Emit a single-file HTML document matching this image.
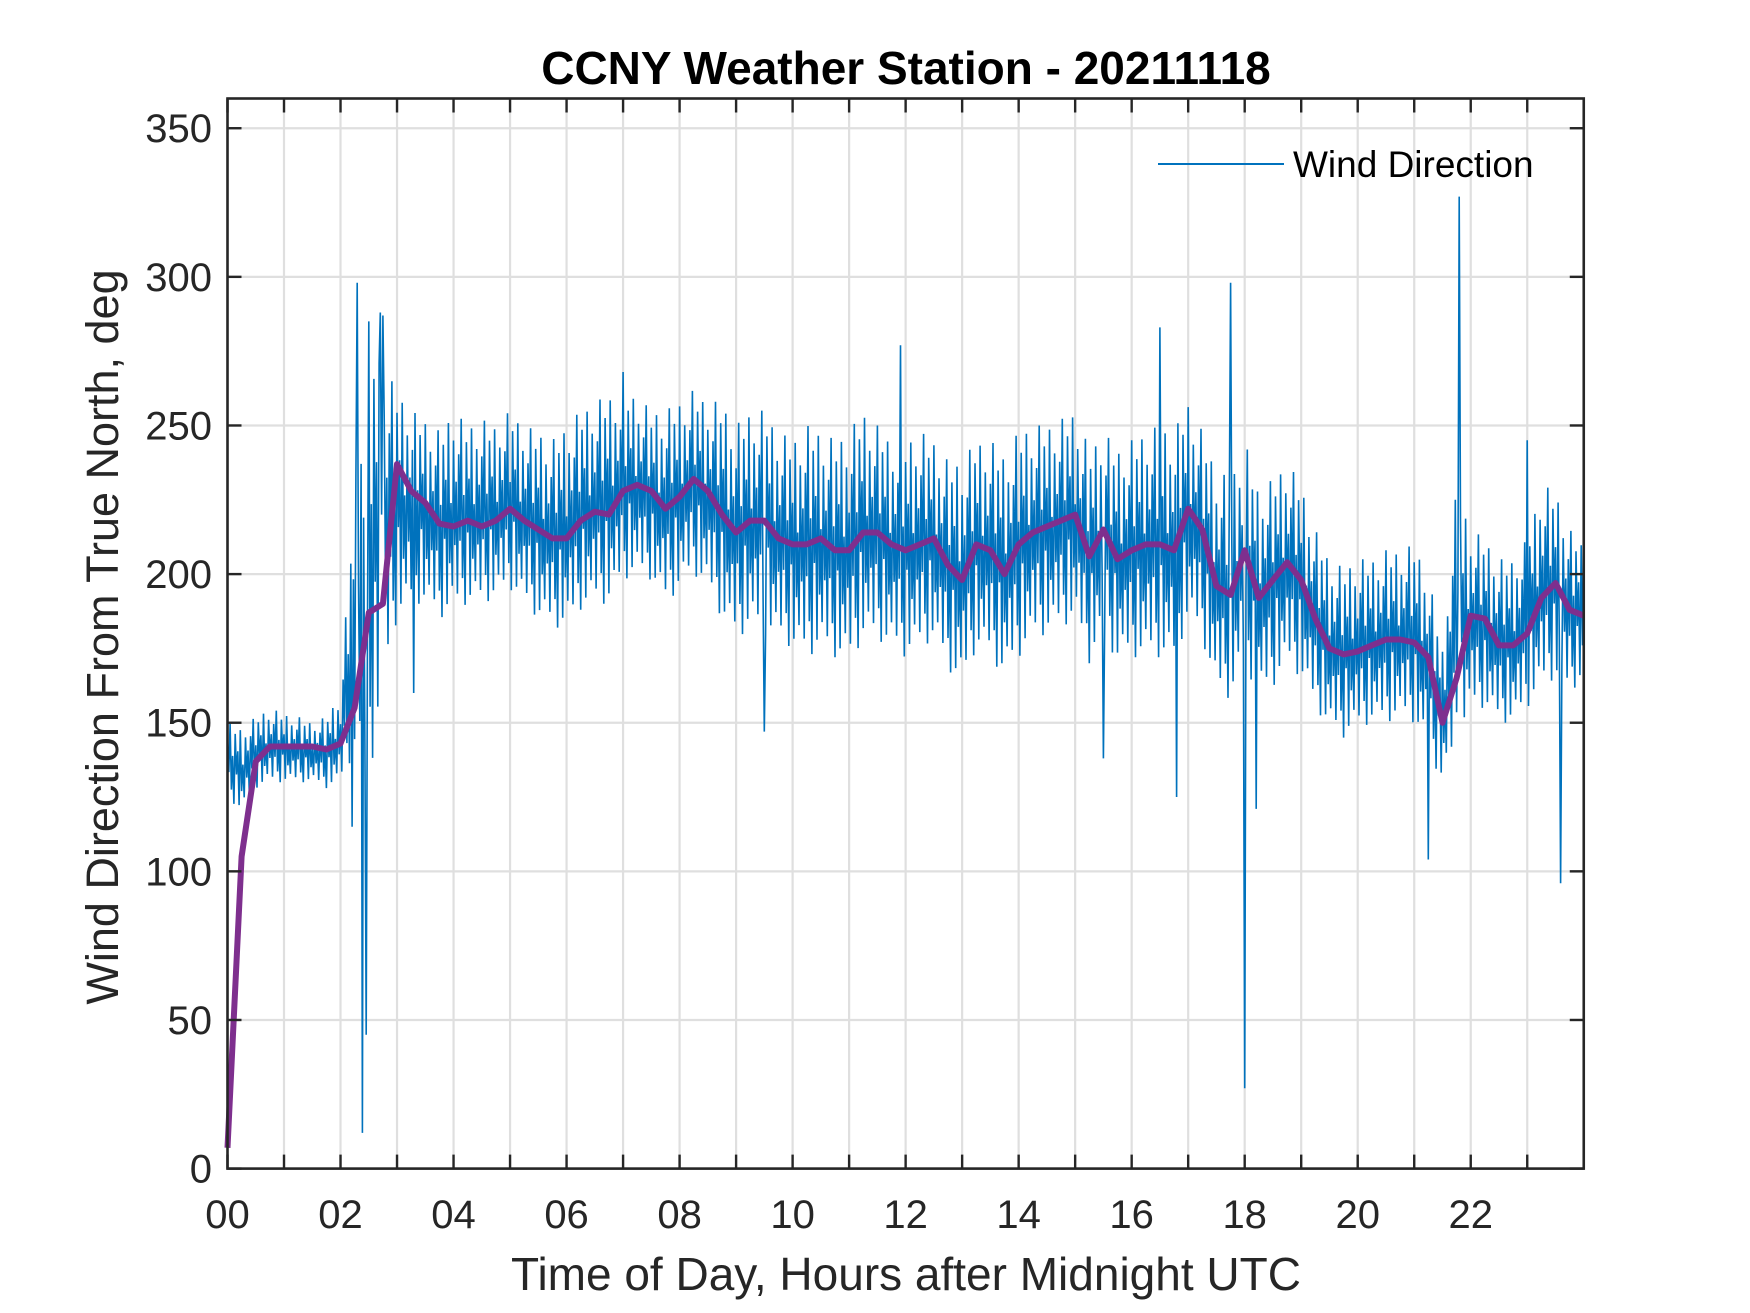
<!DOCTYPE html>
<html><head><meta charset="utf-8"><style>
html,body{margin:0;padding:0;background:#fff;}
svg{display:block;font-family:"Liberation Sans",Arial,sans-serif;}
</style></head><body>
<svg id="chart" width="1750" height="1313" viewBox="0 0 1750 1313" xmlns="http://www.w3.org/2000/svg">
<rect width="1750" height="1313" fill="#fff"/>
<g id="grid"></g>
<g id="series"></g>
<g id="axes"></g>
<text x="906" y="84" text-anchor="middle" font-size="46" font-weight="bold" fill="#000">CCNY Weather Station - 20211118</text>
<text x="906" y="1290" text-anchor="middle" font-size="46" fill="#262626">Time of Day, Hours after Midnight UTC</text>
<text transform="translate(118,637) rotate(-90)" text-anchor="middle" font-size="45" fill="#262626">Wind Direction From True North, deg</text>
<g>
<line x1="1158" y1="164" x2="1284" y2="164" stroke="#0072BD" stroke-width="2"/>
<text x="1293" y="177" font-size="37" fill="#000">Wind Direction</text>
</g>
</svg>
<script>
const hours=[0,0.25,0.5,0.75,1,1.25,1.5,1.75,2,2.25,2.5,2.75,3,3.25,3.5,3.75,4,4.25,4.5,4.75,5,5.25,5.5,5.75,6,6.25,6.5,6.75,7,7.25,7.5,7.75,8,8.25,8.5,8.75,9,9.25,9.5,9.75,10,10.25,10.5,10.75,11,11.25,11.5,11.75,12,12.25,12.5,12.75,13,13.25,13.5,13.75,14,14.25,14.5,14.75,15,15.25,15.5,15.75,16,16.25,16.5,16.75,17,17.25,17.5,17.75,18,18.25,18.5,18.75,19,19.25,19.5,19.75,20,20.25,20.5,20.75,21,21.25,21.5,21.75,22,22.25,22.5,22.75,23,23.25,23.5,23.75,24];
const smoothVals=[7,105,137,142,142,142,142,141,143,155,187,190,237,228,224,217,216,218,216,218,222,218,215,212,212,218,221,220,228,230,228,222,226,232,228,220,214,218,218,212,210,210,212,208,208,214,214,210,208,210,212,203,198,210,208,200,210,214,216,218,220,206,215,205,208,210,210,208,222,215,196,193,208,192,198,204,198,185,175,173,174,176,178,178,177,172,150,165,186,185,176,176,180,192,197,188,186];
const hiVals=[150,148,152,155,153,152,150,152,160,230,285,270,262,255,252,248,255,250,252,250,255,250,248,245,250,255,258,260,262,260,255,255,258,262,258,258,250,255,255,248,245,250,248,245,248,255,250,245,245,248,245,238,238,245,245,240,248,250,250,252,255,242,248,242,245,248,250,248,258,248,235,232,245,228,232,238,230,215,205,202,205,205,208,208,210,200,175,230,215,212,205,205,212,230,228,215,210];
const loVals=[125,120,128,130,130,130,130,128,130,140,130,160,185,190,190,185,188,190,190,192,195,190,185,182,182,188,190,190,198,200,198,190,195,200,195,185,178,182,180,178,175,172,175,172,170,178,178,175,172,175,178,168,162,175,172,165,172,178,180,182,185,170,180,170,172,172,172,170,185,178,160,158,170,158,162,170,165,155,148,145,148,150,150,152,150,140,130,140,155,155,150,150,155,162,165,160,165];
const spikeHours=[2.2,2.3,2.38,2.45,2.7,2.75,3.3,7.0,9.5,11.9,15.5,16.5,16.8,17.75,18.0,18.2,21.25,21.8,23.0,23.6];
const spikeVals=[115,298,12,45,288,287,160,268,147,277,138,283,125,298,27,121,104,327,245,96];
const xTicks=[0,2,4,6,8,10,12,14,16,18,20,22];
const xTickLabels=["00","02","04","06","08","10","12","14","16","18","20","22"];
const yTicks=[0,50,100,150,200,250,300,350];

const NS="http://www.w3.org/2000/svg";
const L=227.5,R=1583.75,T=98.5,B=1168.6;
const X=h=>L+(h/24)*(R-L);
const Y=v=>B-(v/360)*(B-T);
function mk(tag,attrs,parent){const e=document.createElementNS(NS,tag);for(const k in attrs)e.setAttribute(k,attrs[k]);parent.appendChild(e);return e;}
const grid=document.getElementById('grid'),axes=document.getElementById('axes'),series=document.getElementById('series');

for(let h=1;h<24;h++){
  const g=mk('line',{x1:X(h),x2:X(h),y1:T,y2:B,stroke:'#dfdfdf','stroke-width':2.2},grid);
  
  
}
yTicks.forEach(v=>{
  const g=mk('line',{x1:L,x2:R,y1:Y(v),y2:Y(v),stroke:'#dfdfdf','stroke-width':2.2},grid);
  
  
});

// blue noisy series (rendering pattern for within-bin variation)
const pat=[0.6,-0.3,1,-0.7,0.2,-1,0.8,-0.2,0.4,-0.9,0.95,-0.5,0.1,-0.75,0.7,-0.35,0.3,-0.85];
let pts=[];
const nPer=11;let pi=0;
for(let i=0;i<hours.length-1;i++){
  for(let k=0;k<nPer;k++){
    const f=k/nPer, h=hours[i]+f*(hours[i+1]-hours[i]);
    const hi=hiVals[i]+(hiVals[i+1]-hiVals[i])*f, lo=loVals[i]+(loVals[i+1]-loVals[i])*f;
    const mid=(hi+lo)/2, half=(hi-lo)/2;
    let v=mid+pat[pi%pat.length]*half; pi++;
    for(let s=0;s<spikeHours.length;s++){ if(Math.abs(spikeHours[s]-h)<0.0114) v=spikeVals[s]; }
    pts.push(X(h).toFixed(1)+','+Y(v).toFixed(1));
  }
}
const blue=mk('polyline',{points:pts.join(' '),fill:'none',stroke:'#0072BD','stroke-width':1.6,'stroke-linejoin':'miter'},series);



const sp=hours.map((h,i)=>X(h).toFixed(1)+','+Y(smoothVals[i]).toFixed(1)).join(' ');
const purple=mk('polyline',{points:sp,fill:'none',stroke:'#7E2F8E','stroke-width':6,'stroke-linejoin':'round'},series);



const box=mk('rect',{x:L,y:T,width:R-L,height:B-T,fill:'none',stroke:'#262626','stroke-width':2.6},axes);


const tl=14;
for(let h=0;h<=24;h++){
  const a=mk('line',{x1:X(h),x2:X(h),y1:B,y2:B-tl,stroke:'#262626','stroke-width':2.4},axes);
  
  
  const b=mk('line',{x1:X(h),x2:X(h),y1:T,y2:T+tl,stroke:'#262626','stroke-width':2.4},axes);
  
  
}
xTicks.forEach((h,i)=>{
  const t=mk('text',{x:X(h),y:1228,'text-anchor':'middle','font-size':40,fill:'#262626'},axes);
  
  
  t.textContent=xTickLabels[i];
});
yTicks.forEach(v=>{
  const a=mk('line',{x1:L,x2:L+tl,y1:Y(v),y2:Y(v),stroke:'#262626','stroke-width':2.4},axes);
  
  
  const b=mk('line',{x1:R,x2:R-tl,y1:Y(v),y2:Y(v),stroke:'#262626','stroke-width':2.4},axes);
  
  
  const t=mk('text',{x:212,y:Y(v)+14,'text-anchor':'end','font-size':40,fill:'#262626'},axes);
  
  
  t.textContent=String(v);
});
</script>
</body></html>
